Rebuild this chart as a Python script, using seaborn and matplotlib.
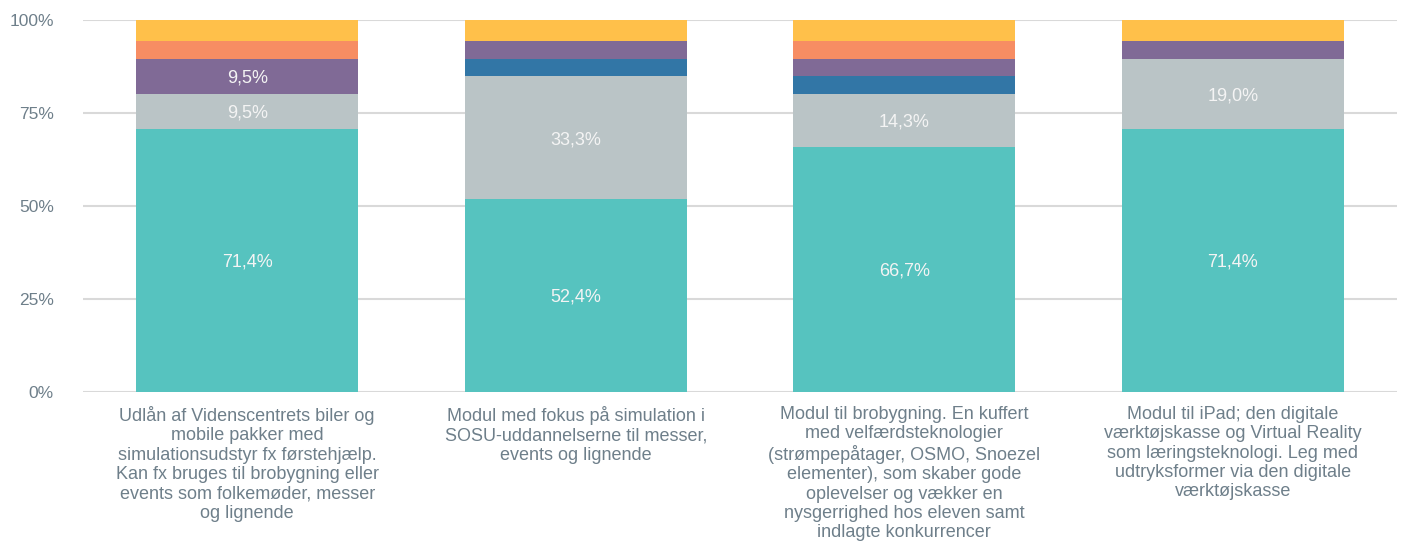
import matplotlib
matplotlib.use("Agg")
import matplotlib.pyplot as plt
import numpy as np
import pandas as pd
import seaborn as sns

# Categories (x axis labels, wrapped as in the source)
categories = [
    "Udlån af Videnscentrets biler og\nmobile pakker med\nsimulationsudstyr fx førstehjælp.\nKan fx bruges til brobygning eller\nevents som folkemøder, messer\nog lignende",
    "Modul med fokus på simulation i\nSOSU-uddannelserne til messer,\nevents og lignende",
    "Modul til brobygning. En kuffert\nmed velfærdsteknologier\n(strømpepåtager, OSMO, Snoezel\nelementer), som skaber gode\noplevelser og vækker en\nnysgerrighed hos eleven samt\nindlagte konkurrencer",
    "Modul til iPad; den digitale\nværktøjskasse og Virtual Reality\nsom læringsteknologi. Leg med\nudtryksformer via den digitale\nværktøjskasse",
]

# Share of answers (%) per series, bottom to top
serie_1 = [71.4, 52.4, 66.7, 71.4]
serie_2 = [9.5, 33.3, 14.3, 19.0]
serie_3 = [0.0, 4.8, 4.8, 0.0]
serie_4 = [9.5, 4.8, 4.8, 4.8]
serie_5 = [4.8, 0.0, 4.8, 0.0]
serie_6 = [5.7, 5.7, 5.7, 5.7]

series = [serie_1, serie_2, serie_3, serie_4, serie_5, serie_6]
colors = ["#56C3BF", "#BAC4C6", "#3276A6", "#806A96", "#F78D63", "#FFC04A"]

# 100% stacked: each bar is scaled to its own total
totals = np.sum(np.array(series), axis=0)

plt.rcParams["font.family"] = ["Liberation Sans", "DejaVu Sans"]

fig = plt.figure(figsize=(14.02, 5.48), dpi=100)
ax = fig.add_axes([0.0592, 0.2847, 0.9372, 0.6788])

df = pd.DataFrame({"cat": categories})
bottom = np.zeros(len(categories))
for vals, col in zip(series, colors):
    share = np.array(vals) / totals * 100
    df["val"] = share
    sns.barplot(data=df, x="cat", y="val", color=col, width=0.675,
                bottom=bottom, ax=ax, saturation=1, zorder=3)
    # value labels for the larger segments
    for i, v in enumerate(vals):
        if v >= 9:
            ax.text(i, bottom[i] + share[i] / 2, f"{v:.1f}%".replace(".", ","),
                    ha="center", va="center_baseline", color="#F4F4F4",
                    fontsize=13, zorder=4)
    bottom = bottom + share

ax.set_xlim(-0.5, 3.5)
ax.set_ylim(0, 100)
ax.set_yticks([0, 25, 50, 75, 100])
ax.set_yticklabels(["0%", "25%", "50%", "75%", "100%"])
ax.yaxis.grid(True, color="#D9D9D9", linewidth=1.5, zorder=0)
ax.set_axisbelow(True)
for s in ax.spines.values():
    s.set_visible(False)
ax.tick_params(axis="both", length=0, colors="#6E7F8A")
ax.tick_params(axis="y", pad=21, labelsize=12.5)
ax.tick_params(axis="x", pad=10, labelsize=13)
for lbl in ax.get_xticklabels():
    lbl.set_linespacing(1.18)
ax.set_xlabel("")
ax.set_ylabel("")

fig.savefig("out.png", dpi=100)
